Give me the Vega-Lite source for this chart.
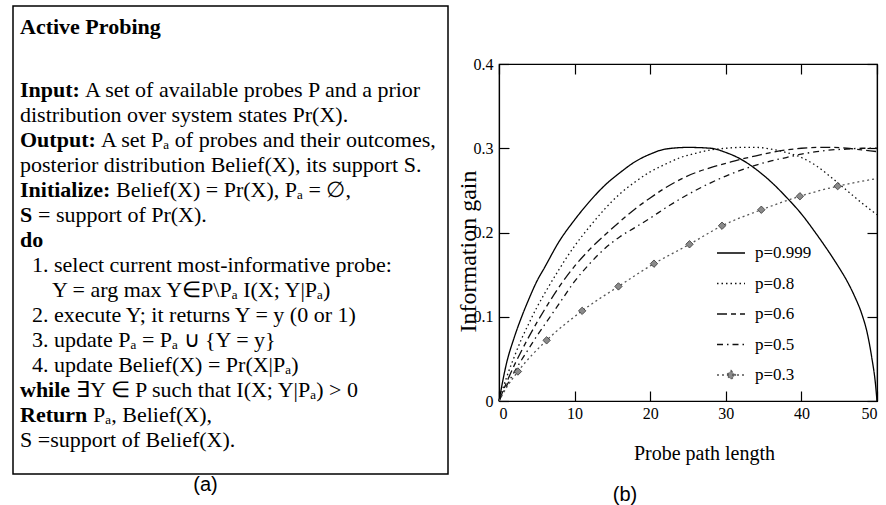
{
  "$schema": "https://vega.github.io/schema/vega-lite/v6.json",
  "background": "white",
  "padding": {"left": 12, "top": 5, "right": 0, "bottom": 0},
  "spacing": 6,
  "datasets": {
    "algo": [
      {"line": 0, "indent": 0, "kind": "kw", "text": "Active Probing"},
      {"line": 2.5, "indent": 0, "kind": "kw", "text": "Input:"},
      {"line": 2.5, "indent": 0, "kind": "Input:", "text": "A set of available probes P and a prior"},
      {"line": 3.5, "indent": 0, "kind": "txt", "text": "distribution over system states Pr(X)."},
      {"line": 4.5, "indent": 0, "kind": "kw", "text": "Output:"},
      {"line": 4.5, "indent": 0, "kind": "Output:", "text": "A set Pₐ of probes and their outcomes,"},
      {"line": 5.5, "indent": 0, "kind": "txt", "text": "posterior distribution Belief(X), its support S."},
      {"line": 6.5, "indent": 0, "kind": "kw", "text": "Initialize:"},
      {"line": 6.5, "indent": 0, "kind": "Initialize:", "text": "Belief(X) = Pr(X), Pₐ = ∅,"},
      {"line": 7.5, "indent": 0, "kind": "kw", "text": "S"},
      {"line": 7.5, "indent": 0, "kind": "S", "text": "= support of Pr(X)."},
      {"line": 8.5, "indent": 0, "kind": "kw", "text": "do"},
      {"line": 9.5, "indent": 3, "kind": "txt", "text": "1. select current most-informative probe:"},
      {"line": 10.5, "indent": 8, "kind": "txt", "text": "Y = arg max Y∈P\\Pₐ I(X; Y|Pₐ)"},
      {"line": 11.5, "indent": 3, "kind": "txt", "text": "2. execute Y; it returns Y = y (0 or 1)"},
      {"line": 12.5, "indent": 3, "kind": "txt", "text": "3. update Pₐ = Pₐ ∪ {Y = y}"},
      {"line": 13.5, "indent": 3, "kind": "txt", "text": "4. update Belief(X) = Pr(X|Pₐ)"},
      {"line": 14.5, "indent": 0, "kind": "kw", "text": "while"},
      {"line": 14.5, "indent": 0, "kind": "while", "text": "∃Y ∈ P such that I(X; Y|Pₐ) > 0"},
      {"line": 15.5, "indent": 0, "kind": "kw", "text": "Return"},
      {"line": 15.5, "indent": 0, "kind": "Return", "text": "Pₐ, Belief(X),"},
      {"line": 16.5, "indent": 0, "kind": "txt", "text": "S =support of Belief(X)."}
    ],
    "curves": [
      {"series": "p=0.999", "length": 0, "gain": 0},
      {"series": "p=0.999", "length": 1, "gain": 0.045},
      {"series": "p=0.999", "length": 2, "gain": 0.075},
      {"series": "p=0.999", "length": 3, "gain": 0.1},
      {"series": "p=0.999", "length": 4, "gain": 0.122},
      {"series": "p=0.999", "length": 5, "gain": 0.142},
      {"series": "p=0.999", "length": 6, "gain": 0.158},
      {"series": "p=0.999", "length": 8, "gain": 0.19},
      {"series": "p=0.999", "length": 10, "gain": 0.215},
      {"series": "p=0.999", "length": 12, "gain": 0.237},
      {"series": "p=0.999", "length": 14, "gain": 0.256},
      {"series": "p=0.999", "length": 16, "gain": 0.271},
      {"series": "p=0.999", "length": 18, "gain": 0.284},
      {"series": "p=0.999", "length": 20, "gain": 0.293},
      {"series": "p=0.999", "length": 22, "gain": 0.299},
      {"series": "p=0.999", "length": 25, "gain": 0.301},
      {"series": "p=0.999", "length": 28, "gain": 0.3},
      {"series": "p=0.999", "length": 30, "gain": 0.295},
      {"series": "p=0.999", "length": 32, "gain": 0.287},
      {"series": "p=0.999", "length": 34, "gain": 0.275},
      {"series": "p=0.999", "length": 36, "gain": 0.26},
      {"series": "p=0.999", "length": 38, "gain": 0.242},
      {"series": "p=0.999", "length": 40, "gain": 0.222},
      {"series": "p=0.999", "length": 42, "gain": 0.198},
      {"series": "p=0.999", "length": 44, "gain": 0.172},
      {"series": "p=0.999", "length": 45, "gain": 0.158},
      {"series": "p=0.999", "length": 46, "gain": 0.143},
      {"series": "p=0.999", "length": 47, "gain": 0.125},
      {"series": "p=0.999", "length": 48, "gain": 0.103},
      {"series": "p=0.999", "length": 48.7, "gain": 0.081},
      {"series": "p=0.999", "length": 49.3, "gain": 0.052},
      {"series": "p=0.999", "length": 49.8, "gain": 0.02},
      {"series": "p=0.999", "length": 50, "gain": 0},
      {"series": "p=0.8", "length": 0, "gain": 0},
      {"series": "p=0.8", "length": 1, "gain": 0.028},
      {"series": "p=0.8", "length": 2, "gain": 0.052},
      {"series": "p=0.8", "length": 3, "gain": 0.074},
      {"series": "p=0.8", "length": 4, "gain": 0.093},
      {"series": "p=0.8", "length": 5, "gain": 0.111},
      {"series": "p=0.8", "length": 6, "gain": 0.127},
      {"series": "p=0.8", "length": 8, "gain": 0.157},
      {"series": "p=0.8", "length": 10, "gain": 0.184},
      {"series": "p=0.8", "length": 12, "gain": 0.207},
      {"series": "p=0.8", "length": 14, "gain": 0.228},
      {"series": "p=0.8", "length": 16, "gain": 0.246},
      {"series": "p=0.8", "length": 18, "gain": 0.26},
      {"series": "p=0.8", "length": 20, "gain": 0.272},
      {"series": "p=0.8", "length": 22, "gain": 0.281},
      {"series": "p=0.8", "length": 24, "gain": 0.289},
      {"series": "p=0.8", "length": 26, "gain": 0.294},
      {"series": "p=0.8", "length": 28, "gain": 0.298},
      {"series": "p=0.8", "length": 30, "gain": 0.3},
      {"series": "p=0.8", "length": 32, "gain": 0.301},
      {"series": "p=0.8", "length": 34, "gain": 0.301},
      {"series": "p=0.8", "length": 36, "gain": 0.299},
      {"series": "p=0.8", "length": 38, "gain": 0.295},
      {"series": "p=0.8", "length": 40, "gain": 0.289},
      {"series": "p=0.8", "length": 42, "gain": 0.279},
      {"series": "p=0.8", "length": 44, "gain": 0.265},
      {"series": "p=0.8", "length": 46, "gain": 0.25},
      {"series": "p=0.8", "length": 48, "gain": 0.235},
      {"series": "p=0.8", "length": 50, "gain": 0.221},
      {"series": "p=0.6", "length": 0, "gain": 0},
      {"series": "p=0.6", "length": 1, "gain": 0.022},
      {"series": "p=0.6", "length": 2, "gain": 0.042},
      {"series": "p=0.6", "length": 3, "gain": 0.06},
      {"series": "p=0.6", "length": 4, "gain": 0.077},
      {"series": "p=0.6", "length": 5, "gain": 0.093},
      {"series": "p=0.6", "length": 6, "gain": 0.108},
      {"series": "p=0.6", "length": 8, "gain": 0.136},
      {"series": "p=0.6", "length": 10, "gain": 0.16},
      {"series": "p=0.6", "length": 12, "gain": 0.18},
      {"series": "p=0.6", "length": 14, "gain": 0.197},
      {"series": "p=0.6", "length": 16, "gain": 0.213},
      {"series": "p=0.6", "length": 18, "gain": 0.228},
      {"series": "p=0.6", "length": 20, "gain": 0.241},
      {"series": "p=0.6", "length": 22, "gain": 0.253},
      {"series": "p=0.6", "length": 24, "gain": 0.263},
      {"series": "p=0.6", "length": 26, "gain": 0.271},
      {"series": "p=0.6", "length": 28, "gain": 0.277},
      {"series": "p=0.6", "length": 30, "gain": 0.282},
      {"series": "p=0.6", "length": 32, "gain": 0.287},
      {"series": "p=0.6", "length": 34, "gain": 0.291},
      {"series": "p=0.6", "length": 36, "gain": 0.295},
      {"series": "p=0.6", "length": 38, "gain": 0.298},
      {"series": "p=0.6", "length": 40, "gain": 0.3},
      {"series": "p=0.6", "length": 42, "gain": 0.301},
      {"series": "p=0.6", "length": 44, "gain": 0.301},
      {"series": "p=0.6", "length": 46, "gain": 0.3},
      {"series": "p=0.6", "length": 48, "gain": 0.298},
      {"series": "p=0.6", "length": 50, "gain": 0.296},
      {"series": "p=0.5", "length": 0, "gain": 0},
      {"series": "p=0.5", "length": 1, "gain": 0.018},
      {"series": "p=0.5", "length": 2, "gain": 0.034},
      {"series": "p=0.5", "length": 3, "gain": 0.049},
      {"series": "p=0.5", "length": 4, "gain": 0.063},
      {"series": "p=0.5", "length": 5, "gain": 0.077},
      {"series": "p=0.5", "length": 6, "gain": 0.09},
      {"series": "p=0.5", "length": 8, "gain": 0.116},
      {"series": "p=0.5", "length": 10, "gain": 0.142},
      {"series": "p=0.5", "length": 12, "gain": 0.163},
      {"series": "p=0.5", "length": 14, "gain": 0.181},
      {"series": "p=0.5", "length": 16, "gain": 0.195},
      {"series": "p=0.5", "length": 18, "gain": 0.206},
      {"series": "p=0.5", "length": 20, "gain": 0.217},
      {"series": "p=0.5", "length": 22, "gain": 0.229},
      {"series": "p=0.5", "length": 24, "gain": 0.24},
      {"series": "p=0.5", "length": 26, "gain": 0.25},
      {"series": "p=0.5", "length": 28, "gain": 0.259},
      {"series": "p=0.5", "length": 30, "gain": 0.267},
      {"series": "p=0.5", "length": 32, "gain": 0.274},
      {"series": "p=0.5", "length": 34, "gain": 0.28},
      {"series": "p=0.5", "length": 36, "gain": 0.285},
      {"series": "p=0.5", "length": 38, "gain": 0.289},
      {"series": "p=0.5", "length": 40, "gain": 0.293},
      {"series": "p=0.5", "length": 42, "gain": 0.296},
      {"series": "p=0.5", "length": 44, "gain": 0.298},
      {"series": "p=0.5", "length": 46, "gain": 0.299},
      {"series": "p=0.5", "length": 48, "gain": 0.3},
      {"series": "p=0.5", "length": 50, "gain": 0.3},
      {"series": "p=0.3", "length": 0, "gain": 0},
      {"series": "p=0.3", "length": 1, "gain": 0.016},
      {"series": "p=0.3", "length": 2.5, "gain": 0.035},
      {"series": "p=0.3", "length": 6.3, "gain": 0.072},
      {"series": "p=0.3", "length": 11, "gain": 0.107},
      {"series": "p=0.3", "length": 15.8, "gain": 0.136},
      {"series": "p=0.3", "length": 20.5, "gain": 0.163},
      {"series": "p=0.3", "length": 25.2, "gain": 0.186},
      {"series": "p=0.3", "length": 29.5, "gain": 0.208},
      {"series": "p=0.3", "length": 34.7, "gain": 0.227},
      {"series": "p=0.3", "length": 39.8, "gain": 0.243},
      {"series": "p=0.3", "length": 44.8, "gain": 0.255},
      {"series": "p=0.3", "length": 50, "gain": 0.264}
    ]
  },
  "config": {
    "font": "Liberation Serif",
    "title": {"font": "Liberation Sans", "fontWeight": "normal", "fontSize": 20, "color": "#000"},
    "axis": {
      "labelFont": "Liberation Serif", "titleFont": "Liberation Serif",
      "domainColor": "#000", "tickColor": "#000", "labelColor": "#000", "titleColor": "#000",
      "grid": false, "tickSize": -10, "titleFontWeight": "normal", "domainWidth": 1.2, "tickWidth": 1.2
    }
  },
  "hconcat": [
    {
      "width": 435,
      "height": 468,
      "view": {"stroke": "#000", "strokeWidth": 1.5},
      "title": {"text": "(a)", "orient": "bottom", "dx": -25, "offset": 1},
      "data": {"name": "algo"},
      "encoding": {
        "x": {"field": "indent", "type": "quantitative", "scale": {"domain": [-1.75, 107], "nice": false, "zero": false}, "axis": null},
        "y": {"field": "line", "type": "quantitative", "scale": {"domain": [-0.84, 17.88], "nice": false, "zero": false, "reverse": true}, "axis": null},
        "text": {"field": "text"}
      },
      "layer": [
        {"transform": [{"filter": "datum.kind == 'kw'"}], "mark": {"type": "text", "align": "left", "baseline": "middle", "font": "Liberation Serif", "fontSize": 22, "fontWeight": "bold", "color": "#000"}},
        {"transform": [{"filter": "datum.kind == 'txt'"}], "mark": {"type": "text", "align": "left", "baseline": "middle", "font": "Liberation Serif", "fontSize": 22, "color": "#000"}},
        {"transform": [{"filter": "datum.kind == 'Input:'"}], "mark": {"type": "text", "align": "left", "baseline": "middle", "font": "Liberation Serif", "fontSize": 22, "color": "#000", "dx": 65}},
        {"transform": [{"filter": "datum.kind == 'Output:'"}], "mark": {"type": "text", "align": "left", "baseline": "middle", "font": "Liberation Serif", "fontSize": 22, "color": "#000", "dx": 81}},
        {"transform": [{"filter": "datum.kind == 'Initialize:'"}], "mark": {"type": "text", "align": "left", "baseline": "middle", "font": "Liberation Serif", "fontSize": 22, "color": "#000", "dx": 96}},
        {"transform": [{"filter": "datum.kind == 'S'"}], "mark": {"type": "text", "align": "left", "baseline": "middle", "font": "Liberation Serif", "fontSize": 22, "color": "#000", "dx": 18}},
        {"transform": [{"filter": "datum.kind == 'while'"}], "mark": {"type": "text", "align": "left", "baseline": "middle", "font": "Liberation Serif", "fontSize": 22, "color": "#000", "dx": 56}},
        {"transform": [{"filter": "datum.kind == 'Return'"}], "mark": {"type": "text", "align": "left", "baseline": "middle", "font": "Liberation Serif", "fontSize": 22, "color": "#000", "dx": 73}}
      ]
    },
    {
      "spacing": 0,
      "vconcat": [
        {
          "width": 378,
          "height": 49,
          "view": {"stroke": null},
          "data": {"values": []},
          "mark": {"type": "point", "opacity": 0}
        },
        {
          "width": 378,
          "height": 337,
          "view": {"stroke": "#000", "strokeWidth": 1.2},
          "title": {"text": "(b)", "orient": "bottom", "dx": -63, "offset": 22},
          "data": {"name": "curves"},
          "resolve": {"axis": {"x": "independent", "y": "independent"}},
          "layer": [
            {
              "mark": {"type": "line", "strokeWidth": 1.3, "interpolate": "monotone"},
              "encoding": {
                "x": {"field": "length", "type": "quantitative", "scale": {"domain": [0, 50], "nice": false},
                      "axis": {"orient": "bottom", "values": [0, 10, 20, 30, 40, 50], "title": "Probe path length", "labelFontSize": 16, "labelPadding": 14, "titleFontSize": 20, "titlePadding": 22, "titleX": 205}},
                "y": {"field": "gain", "type": "quantitative", "scale": {"domain": [0, 0.4], "nice": false},
                      "axis": {"orient": "left", "values": [0, 0.1, 0.2, 0.3, 0.4], "format": "~g", "title": "Information gain", "labelFontSize": 16, "labelPadding": 16, "titleFontSize": 24, "titleX": -31, "titleY": 187, "titleBaseline": "middle"}},
                "color": {"field": "series", "type": "nominal",
                          "scale": {"domain": ["p=0.999", "p=0.8", "p=0.6", "p=0.5", "p=0.3"], "range": ["#000000", "#111111", "#111111", "#111111", "#555555"]},
                          "legend": {"orient": "none", "legendX": 703, "legendY": 232, "title": null, "symbolType": "stroke", "symbolSize": 784, "symbolStrokeWidth": 1.3, "labelFont": "Liberation Serif", "labelFontSize": 17, "labelColor": "#000", "labelOffset": 9, "rowPadding": 7.5,
                                     "encode": {"symbols": {"update": {
                                       "shape": {"signal": "datum.value === 'p=0.3' ? 'M-1,0H1M0,-0.32L0.32,0L0,0.32L-0.32,0Z' : 'stroke'"},
                                       "fill": {"signal": "datum.value === 'p=0.3' ? '#8a8a8a' : 'transparent'"}
                                     }}}}},
                "strokeDash": {"field": "series", "type": "nominal",
                          "scale": {"domain": ["p=0.999", "p=0.8", "p=0.6", "p=0.5", "p=0.3"], "range": [[1, 0], [1.5, 3], [10, 4, 5, 4], [6, 4, 1.5, 4], [2, 3]]}}
              }
            },
            {
              "transform": [{"filter": "datum.series == 'p=0.3' && datum.length > 2 && datum.length < 48"}],
              "mark": {"type": "point", "shape": "diamond", "size": 55, "filled": true, "fill": "#8a8a8a", "stroke": "#333333", "strokeWidth": 0.8, "opacity": 1},
              "encoding": {
                "x": {"field": "length", "type": "quantitative", "axis": null},
                "y": {"field": "gain", "type": "quantitative", "axis": null}
              }
            },
            {
              "mark": {"type": "point", "opacity": 0},
              "encoding": {
                "x": {"field": "length", "type": "quantitative",
                      "axis": {"orient": "top", "values": [0, 10, 20, 30, 40, 50], "labels": false, "title": null}},
                "y": {"field": "gain", "type": "quantitative",
                      "axis": {"orient": "right", "values": [0, 0.1, 0.2, 0.3, 0.4], "labels": false, "title": null}}
              }
            }
          ]
        }
      ]
    }
  ]
}
